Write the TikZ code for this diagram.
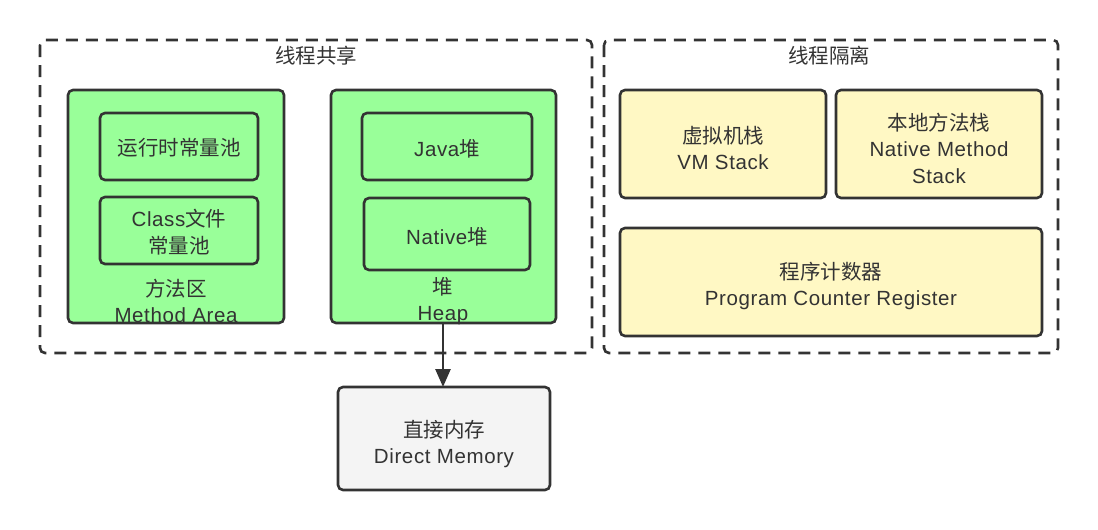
\documentclass[tikz,border=0pt]{standalone}
\usepackage{fontspec}
\setmainfont{Liberation Sans}[LetterSpace=3]
\newfontfamily\cjk{Noto Sans CJK SC}
\usetikzlibrary{arrows.meta}
\definecolor{strk}{HTML}{333333}
\definecolor{grn}{HTML}{99FF99}
\definecolor{ylw}{HTML}{FFF8C4}
\definecolor{gry}{HTML}{F4F4F4}
\tikzset{
  grp/.style={draw=strk, line width=2.6pt, dash pattern=on 12pt off 8pt, rounded corners=5pt},
  box/.style={draw=strk, line width=2.6pt, rounded corners=5pt},
  lbl/.style={font=\fontsize{20.5}{26.5}\selectfont, text=strk, align=center, inner sep=0pt},
}
\begin{document}
\begin{tikzpicture}[x=1pt,y=-1pt]
\useasboundingbox (0,0) rectangle (1098,530);
% groups
\draw[grp] (40,40) rectangle (592,353);
\draw[grp] (604,40) rectangle (1058,353);
\node[lbl] (tshare) at (316,56) {{\cjk 线程共享}};
\node[lbl] (tiso) at (829,56) {{\cjk 线程隔离}};
% method area
\draw[box, fill=grn] (68,90) rectangle (284,323);
\draw[box, fill=grn] (100,113) rectangle (258,180);
\node[lbl] (rtcp) at (179,148) {{\cjk 运行时常量池}};
\draw[box, fill=grn] (100,197) rectangle (258,264);
\node[lbl] (ccp) at (179,232) {Class{\cjk 文件}\\{\cjk 常量池}};
\node[lbl] (ma) at (176,301) {{\cjk 方法区}\\Method Area};
% heap
\draw[box, fill=grn] (331,90) rectangle (556,323);
\coordinate (heapb) at (443,323);
\draw[box, fill=grn] (362,113) rectangle (532,180);
\node[lbl] (jh) at (447,149) {Java{\cjk 堆}};
\draw[box, fill=grn] (364,198) rectangle (530,270);
\node[lbl] (nh) at (447,237) {Native{\cjk 堆}};
\node[lbl] (hp) at (443,301) {{\cjk 堆}\\Heap};
% right group
\draw[box, fill=ylw] (620,90) rectangle (826,198);
\node[lbl] (vms) at (723,148) {{\cjk 虚拟机栈}\\VM Stack};
\draw[box, fill=ylw] (836,90) rectangle (1042,198);
\node[lbl] (nms) at (939,148) {{\cjk 本地方法栈}\\Native Method\\Stack};
\draw[box, fill=ylw] (620,228) rectangle (1042,336);
\node[lbl] (pcr) at (831,286) {{\cjk 程序计数器}\\Program Counter Register};
% direct memory
\draw[box, fill=gry] (338,387) rectangle (550,490);
\coordinate (dmt) at (443,387);
\node[lbl] (dm) at (444,444) {{\cjk 直接内存}\\Direct Memory};
\draw[strk, line width=2.6pt, -{Triangle[length=18pt,width=15pt]}] (heapb) -- (dmt);
\end{tikzpicture}
\end{document}
